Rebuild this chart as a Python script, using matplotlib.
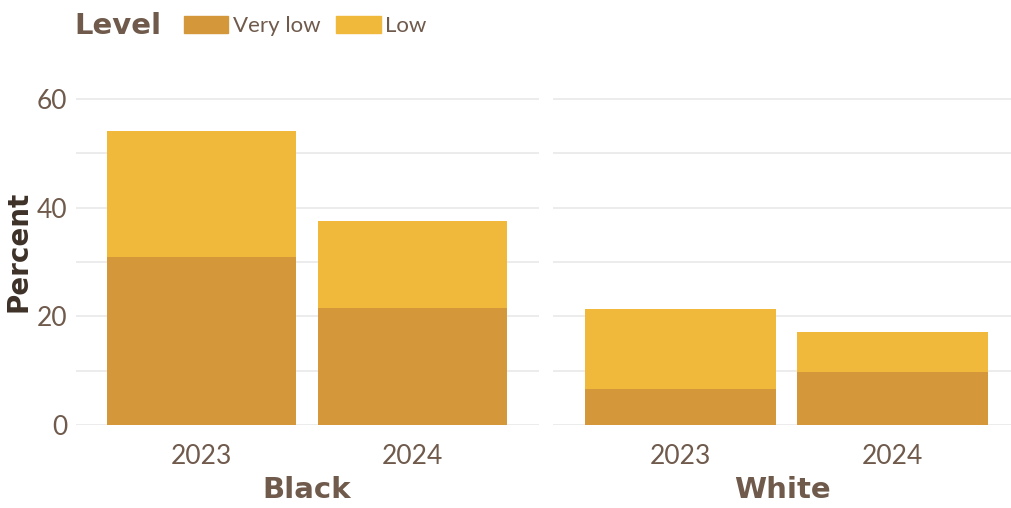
import matplotlib.pyplot as plt
import numpy as np

groups = ['Black', 'White']
years = ['2023', '2024']
very_low = {'Black': [31, 21.5], 'White': [6.6, 9.8]}
low = {'Black': [23, 16], 'White': [14.8, 7.3]}
levels = ['Very low', 'Low']
colors = ['#d4973a', '#f0b93c']

txt = '#6f5a4c'
head = ['DejaVu Sans']
plt.rcParams['font.family'] = ['Lato', 'DejaVu Sans']

fig = plt.figure(figsize=(10.11, 5.08), dpi=100)
bottom = 1 - 425 / 508
height = (425 - 88) / 508
axes = [fig.add_axes([75.5 / 1011, bottom, 463 / 1011, height]),
        fig.add_axes([553 / 1011, bottom, 458 / 1011, height])]

x = np.arange(len(years))
for ax, g in zip(axes, groups):
    ax.bar(x, very_low[g], width=0.9, color=colors[0], zorder=2)
    ax.bar(x, low[g], width=0.9, bottom=very_low[g], color=colors[1], zorder=2)
    ax.set_ylim(0, 62)
    ax.set_yticks([0, 20, 40, 60])
    ax.set_yticks([10, 30, 50], minor=True)
    ax.grid(axis='y', which='both', color='#ebebeb', linewidth=1.3, zorder=0)
    ax.set_xticks(x)
    ax.set_xticklabels(years)
    ax.tick_params(length=0, labelsize=19, labelcolor=txt, pad=14)
    ax.tick_params(axis='y', which='minor', length=0)
    for s in ax.spines.values():
        s.set_visible(False)
    ax.set_xlabel(g, fontsize=21, fontweight='bold', family=head, color=txt, labelpad=5)

axes[0].set_xlim(-0.6, 1.6)
axes[1].set_xlim(-0.6, 1.56)
axes[1].tick_params(axis='y', labelleft=False)
axes[0].tick_params(axis='y', pad=6)
axes[0].set_ylabel('Percent', fontsize=20, fontweight='bold', family=head, color='#3d3128')
axes[0].yaxis.set_label_coords(-0.092, 0.515)

fig.text(74 / 1011, 1 - 26 / 508, 'Level', fontsize=21, fontweight='bold', family=head,
         color=txt, va='center')
handles = [plt.Rectangle((0, 0), 1, 1, color=c) for c in colors]
fig.legend(handles, levels, loc='center left', bbox_to_anchor=(164 / 1011, 1 - 26 / 508),
           ncol=2, frameon=False, fontsize=16, labelcolor=txt, handlelength=2.0,
           handleheight=0.8, handletextpad=0.2, columnspacing=0.7)

fig.savefig('out.png', dpi=100)
